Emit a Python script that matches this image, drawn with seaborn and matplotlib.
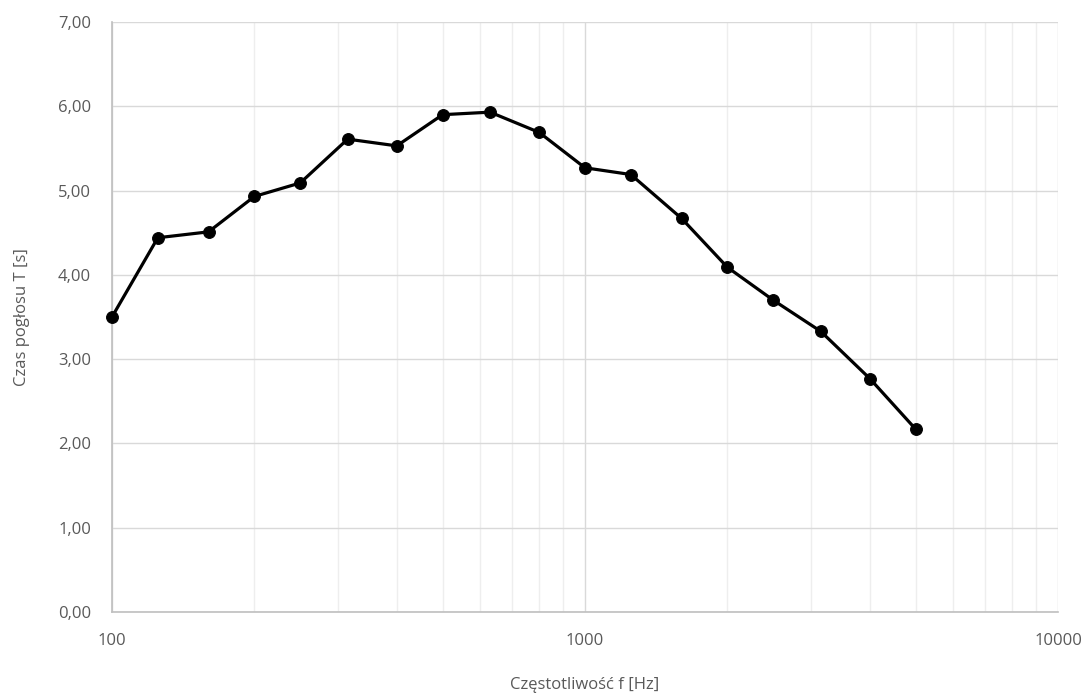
import numpy as np
import pandas as pd
import seaborn as sns
import matplotlib.pyplot as plt
from matplotlib.ticker import FixedLocator, FuncFormatter, LogLocator, NullFormatter

# third-octave band centre frequencies and reverberation time
freq = [100, 125, 160, 200, 250, 315, 400, 500, 630, 800, 1000,
        1250, 1600, 2000, 2500, 3150, 4000, 5000]
t_rev = [3.50, 4.44, 4.51, 4.93, 5.09, 5.61, 5.53, 5.90, 5.93, 5.69, 5.27,
         5.19, 4.67, 4.09, 3.70, 3.33, 2.77, 2.17]
y_ticks = [0, 1, 2, 3, 4, 5, 6, 7]
x_ticks = [100, 1000, 10000]

df = pd.DataFrame({'f': freq, 'T': t_rev})

sns.set_style('white')
plt.rcParams['font.family'] = ['Open Sans', 'DejaVu Sans']

fig = plt.figure(figsize=(10.84, 6.93), dpi=100)
ax = fig.add_axes([0.1033, 0.1169, 0.8727, 0.8514])

ax.set_xscale('log')
sns.lineplot(data=df, x='f', y='T', ax=ax, color='black', linewidth=2.3,
             marker='o', markersize=8.5, markeredgecolor='black', zorder=3,
             clip_on=False)

ax.set_xlim(100, 10000)
ax.set_ylim(0, 7)
ax.xaxis.set_major_locator(FixedLocator(x_ticks))
ax.xaxis.set_minor_locator(LogLocator(base=10, subs=np.arange(2, 10)))
ax.xaxis.set_minor_formatter(NullFormatter())
ax.xaxis.set_major_formatter(FuncFormatter(lambda v, p: f'{int(v)}'))
ax.yaxis.set_major_locator(FixedLocator(y_ticks))
ax.yaxis.set_major_formatter(FuncFormatter(lambda v, p: f'{v:.2f}'.replace('.', ',')))

ax.grid(True, which='major', color='#d9d9d9', linewidth=1)
ax.grid(True, which='minor', axis='x', color='#eeeeee', linewidth=1)

for s in ['top', 'right']:
    ax.spines[s].set_visible(False)
for s in ['left', 'bottom']:
    ax.spines[s].set_color('#bfbfbf')
    ax.spines[s].set_linewidth(1.2)

ax.tick_params(axis='both', which='both', length=0, colors='#595959', labelsize=12)
ax.tick_params(axis='y', pad=15)
ax.tick_params(axis='x', pad=15)

ax.set_xlabel('Częstotliwość f [Hz]', fontsize=12, color='#595959', labelpad=20)
ax.set_ylabel('Czas pogłosu T [s]', fontsize=12, color='#595959', labelpad=20)

fig.savefig('out.png', dpi=100)
